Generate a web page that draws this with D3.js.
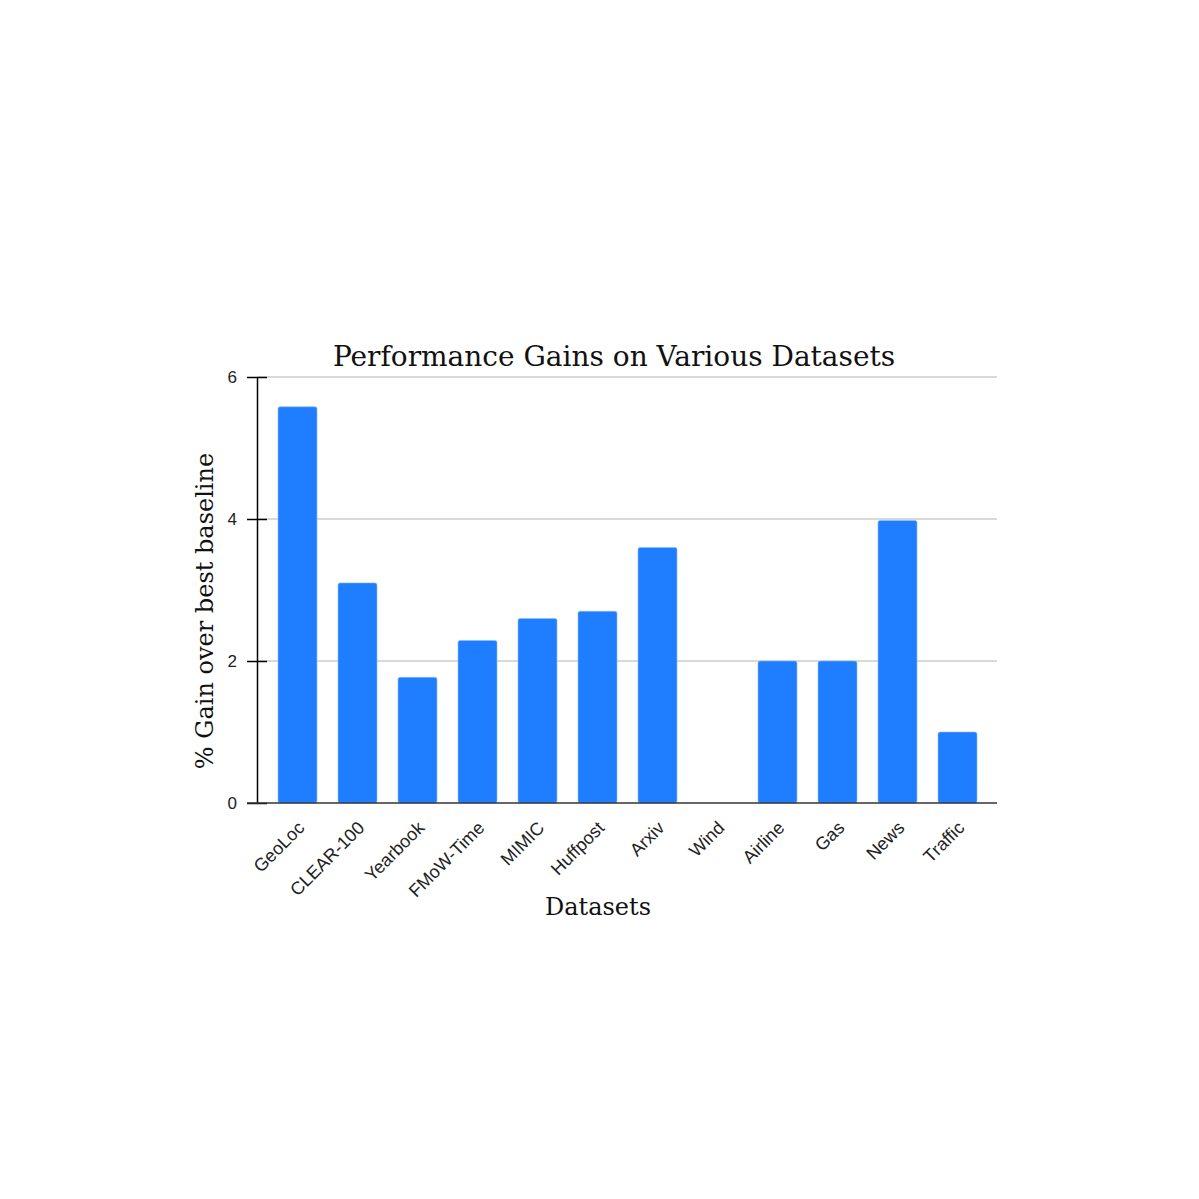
<!DOCTYPE html>
<html>
<head>
<meta charset="utf-8">
<script src="https://cdn.jsdelivr.net/npm/d3@7"></script>
<style>
  html, body { margin: 0; padding: 0; background: #fff; }
</style>
</head>
<body>
<div id="chart"></div>
<script>
// data
const datasets = ["GeoLoc", "CLEAR-100", "Yearbook", "FMoW-Time", "MIMIC", "Huffpost",
                  "Arxiv", "Wind", "Airline", "Gas", "News", "Traffic"];
const gains = [5.58, 3.1, 1.77, 2.29, 2.6, 2.7, 3.6, 0, 2.0, 2.0, 3.98, 1.0];
const yTicks = [0, 2, 4, 6];

const W = 1199, H = 1199;
const plot = {left: 257, right: 997, top: 377, bottom: 803};

const svg = d3.select("#chart").append("svg")
    .attr("width", W)
    .attr("height", H);

const x = d3.scaleBand()
    .domain(datasets)
    .range([plot.left + 10.5, plot.right - 9.5])
    .paddingInner(0.35)
    .paddingOuter(0.175);

const y = d3.scaleLinear()
    .domain([0, 6])
    .range([plot.bottom, plot.top]);

// gridlines
svg.append("g")
    .selectAll("line")
    .data(yTicks.filter(d => d > 0))
    .join("line")
    .attr("x1", plot.left)
    .attr("x2", plot.right)
    .attr("y1", d => y(d))
    .attr("y2", d => y(d))
    .attr("stroke", "#cccccc")
    .attr("stroke-width", 1.3);

// bars
svg.append("g")
    .selectAll("rect")
    .data(datasets.map((d, i) => ({name: d, value: gains[i]})))
    .join("rect")
    .attr("x", d => x(d.name))
    .attr("y", d => y(d.value))
    .attr("width", x.bandwidth())
    .attr("height", d => y(0) - y(d.value))
    .attr("rx", 2)
    .attr("fill", "#1f7dff")
    .attr("stroke", "#8fbcff")
    .attr("stroke-width", 0.6)
    .attr("display", d => d.value > 0 ? null : "none");

// y axis
const yAxis = svg.append("g")
    .attr("transform", "translate(" + plot.left + ",0)")
    .call(d3.axisLeft(y).tickValues(yTicks).tickFormat(d3.format("d")).tickSize(0).tickPadding(20));
yAxis.select(".domain").attr("stroke", "#000").attr("stroke-width", 1.5);
yAxis.selectAll(".tick line")
    .attr("x1", -10).attr("x2", 10)
    .attr("stroke", "#000").attr("stroke-width", 1.5);
yAxis.selectAll(".tick text")
    .attr("font-family", "Liberation Sans, Arial, sans-serif")
    .attr("font-size", 17)
    .attr("fill", "#222");

// baseline
svg.append("line")
    .attr("x1", plot.left - 10)
    .attr("x2", plot.right)
    .attr("y1", y(0))
    .attr("y2", y(0))
    .attr("stroke", "#333")
    .attr("stroke-width", 1.5);

// x labels
svg.append("g")
    .selectAll("text")
    .data(datasets)
    .join("text")
    .attr("transform", d => "translate(" + (x(d) + x.bandwidth() / 2 + 8) + "," + (y(0) + 26) + ") rotate(-45)")
    .attr("text-anchor", "end")
    .attr("font-family", "Liberation Sans, Arial, sans-serif")
    .attr("font-size", 18)
    .attr("fill", "#222")
    .text(d => d);

// title
svg.append("text")
    .attr("x", 614)
    .attr("y", 366)
    .attr("text-anchor", "middle")
    .attr("font-family", "DejaVu Serif, Georgia, serif")
    .attr("font-size", 28)
    .attr("fill", "#111")
    .text("Performance Gains on Various Datasets");

// axis titles
svg.append("text")
    .attr("x", 598)
    .attr("y", 915)
    .attr("text-anchor", "middle")
    .attr("font-family", "DejaVu Serif, Georgia, serif")
    .attr("font-size", 24)
    .attr("fill", "#111")
    .text("Datasets");

svg.append("text")
    .attr("transform", "translate(213,611) rotate(-90)")
    .attr("text-anchor", "middle")
    .attr("font-family", "DejaVu Serif, Georgia, serif")
    .attr("font-size", 24)
    .attr("fill", "#111")
    .text("% Gain over best baseline");
</script>
</body>
</html>
